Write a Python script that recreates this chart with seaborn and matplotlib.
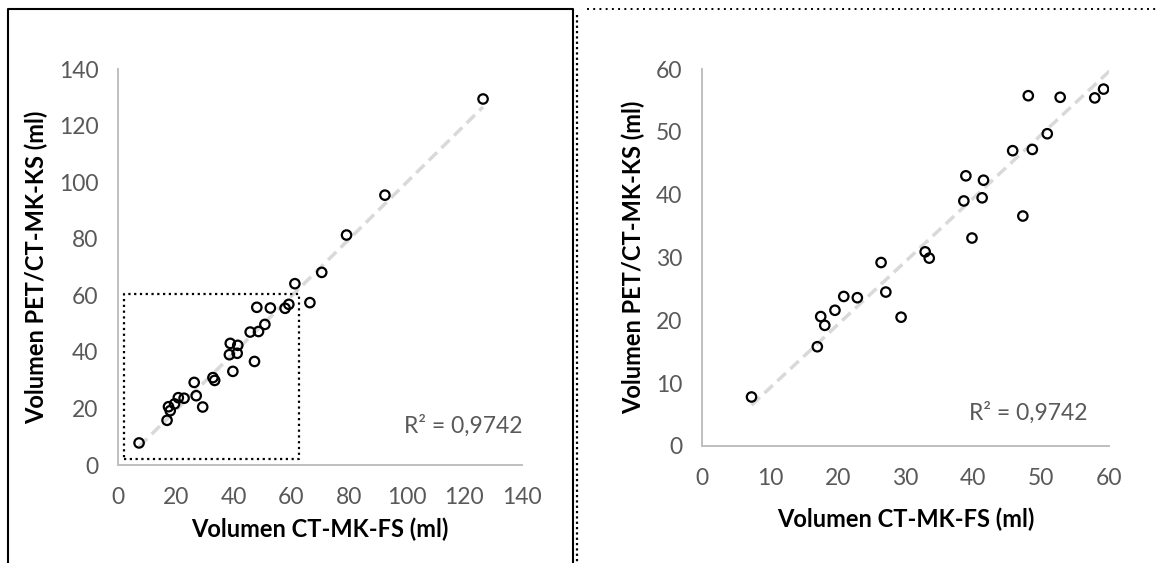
import numpy as np
import matplotlib
matplotlib.use("Agg")
import matplotlib.pyplot as plt
from matplotlib.lines import Line2D
import seaborn as sns

# volumes (ml)
ct_fs = [7.3, 17.0, 17.5, 18.1, 19.6, 20.9, 22.9, 26.4, 27.1, 29.35,
         32.9, 33.5, 38.6, 38.9, 39.8, 41.3, 41.5, 45.8, 47.3, 48.1,
         48.7, 50.9, 52.8, 57.9, 59.2, 61.3, 66.5, 70.6, 79.2, 92.5, 126.5]
pet_ks = [7.8, 15.8, 20.6, 19.2, 21.6, 23.8, 23.6, 29.2, 24.5, 20.5,
          30.9, 29.9, 39.0, 43.0, 33.1, 39.5, 42.3, 47.0, 36.6, 55.75,
          47.2, 49.7, 55.5, 55.4, 56.8, 64.1, 57.4, 68.1, 81.3, 95.4, 129.4]
r2_label = "R² = 0,9742"
x_label = "Volumen CT-MK-FS (ml)"
y_label = "Volumen PET/CT-MK-KS (ml)"

full_ticks = list(range(0, 141, 20))
zoom_ticks = list(range(0, 61, 10))
zoom_box = (2, 2.1, 62.7, 60.3)  # x0, y0, x1, y1 of dotted box

sns.set_style("white")
plt.rcParams["font.family"] = ["Lato", "DejaVu Sans"]

W, H = 1159, 563
fig = plt.figure(figsize=(W / 100, H / 100), dpi=100)

AXIS_GREY = "#bfbfbf"
TEXT_GREY = "#595959"
TREND = "#d9d9d9"
TICK_FS = 16.5
LABEL_FS = 17


def style_axes(ax, ticks, xpad):
    ax.set_xlim(ticks[0], ticks[-1])
    ax.set_ylim(ticks[0], ticks[-1])
    ax.set_xticks(ticks)
    ax.set_yticks(ticks)
    for side in ("top", "right"):
        ax.spines[side].set_visible(False)
    for side in ("left", "bottom"):
        ax.spines[side].set_color(AXIS_GREY)
        ax.spines[side].set_linewidth(1.4)
    ax.tick_params(axis="both", direction="out", length=5, width=1.4,
                   color=AXIS_GREY, labelcolor=TEXT_GREY, labelsize=TICK_FS)
    ax.tick_params(axis="x", pad=11)
    ax.tick_params(axis="y", pad=9)
    ax.set_xlabel(x_label, fontsize=LABEL_FS, fontweight="bold", color="black", labelpad=xpad)
    ax.set_ylabel(y_label, fontsize=LABEL_FS, fontweight="bold", color="black", labelpad=8)


def draw_panel(ax, ticks, xpad):
    sns.regplot(x=np.array(ct_fs), y=np.array(pet_ks), ax=ax, scatter=False,
                ci=None, truncate=True,
                line_kws=dict(color=TREND, lw=2.5, ls=(0, (3.3, 1.8))))
    sns.scatterplot(x=ct_fs, y=pet_ks, ax=ax, marker="o", s=46,
                    facecolor="none", edgecolor="black", linewidth=1.6, zorder=3)
    style_axes(ax, ticks, xpad)


# left panel: full range
ax1 = fig.add_axes([118 / W, 1 - 465 / H, (522 - 118) / W, (465 - 69) / H])
draw_panel(ax1, full_ticks, 7)
x0, y0, x1, y1 = zoom_box
ax1.plot([x0, x1, x1, x0, x0], [y0, y0, y1, y1, y0], color="black",
         lw=1.6, ls=(0, (1, 1.6)), zorder=4)
ax1.text(1.0, 0.10, r2_label, transform=ax1.transAxes, ha="right", va="center",
         fontsize=TICK_FS, color=TEXT_GREY)

# right panel: zoom on 0-60
ax2 = fig.add_axes([702 / W, 1 - 446 / H, (1109 - 702) / W, (446 - 69) / H])
draw_panel(ax2, zoom_ticks, 13)
ax2.text(0.948, 0.088, r2_label, transform=ax2.transAxes, ha="right", va="center",
         fontsize=TICK_FS, color=TEXT_GREY)

# panel frames
def fline(xs, ys, **kw):
    fig.add_artist(Line2D([x / W for x in xs], [1 - y / H for y in ys],
                          transform=fig.transFigure, color="black", **kw))

fline([8, 8, 573, 573], [H + 5, 9, 9, H + 5], lw=1.5, solid_capstyle="butt")
fline([587, W + 5], [9, 9], lw=1.4, ls=(0, (1, 2.2)))
fline([577, 577], [15, H + 5], lw=1.6, ls=(0, (1, 1.4)))

fig.savefig("out.png", dpi=100)
